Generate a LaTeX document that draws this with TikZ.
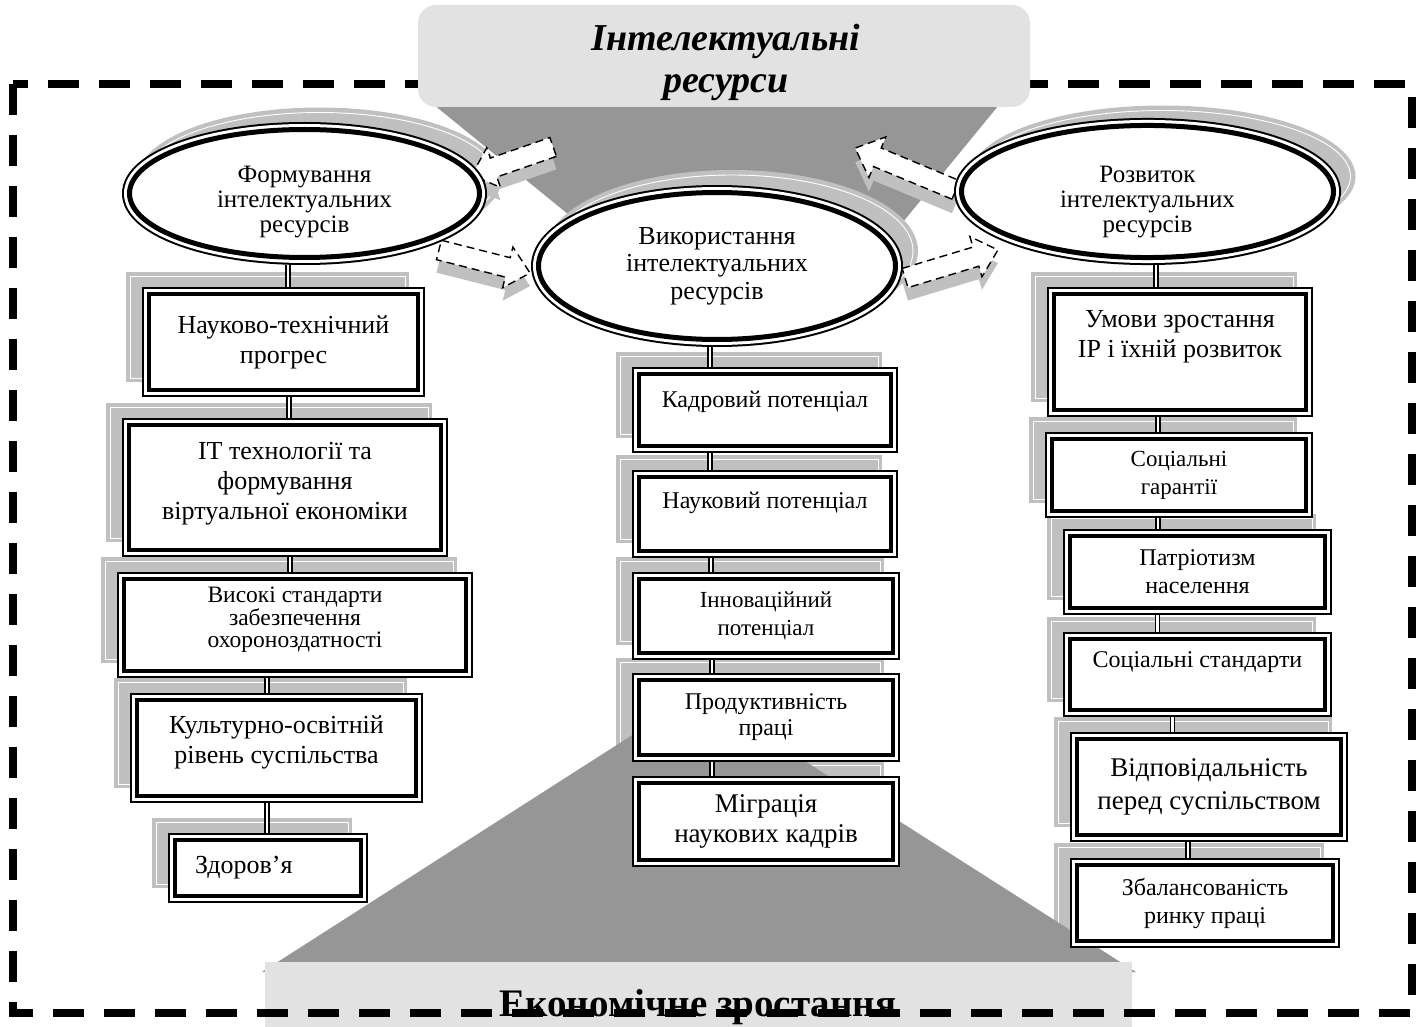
\documentclass[tikz,border=0pt]{standalone}
\usepackage{fontspec}
\setmainfont{Liberation Serif}
\usetikzlibrary{shapes.geometric}

\definecolor{funnelgrey}{RGB}{150,150,150}
\definecolor{shgrey}{RGB}{192,192,192}
\definecolor{bannergrey}{RGB}{226,226,226}

\tikzset{
  dbox/.style={rectangle, draw=black, line width=4pt, fill=white, align=center,
    inner sep=0pt, outer sep=7pt,
    preaction={draw=black, line width=14pt},
    preaction={draw=white, line width=10pt}},
  dell/.style={ellipse, draw=black, line width=5pt, fill=white, align=center,
    inner sep=0pt, outer sep=7.5pt,
    preaction={draw=black, line width=15pt},
    preaction={draw=white, line width=11pt},
    font=\fontsize{25}{25}\selectfont},
  dlink/.style={draw=black, line width=1.3pt, double=white, double distance=2.6pt},
  shline/.style={draw=white, line width=0.9pt},
  blkdash/.style={draw=black, fill=white, line width=1.4pt, dash pattern=on 8pt off 5pt},
  frame/.style={draw=black, line width=8pt, dash pattern=on 31pt off 20pt},
  bigtxt/.style={font=\fontsize{26}{30}\selectfont},
  midtxt/.style={font=\fontsize{24}{28}\selectfont},
  smalltxt/.style={font=\fontsize{24}{27}\selectfont},
}

\begin{document}
\begin{tikzpicture}[x=1pt,y=-1pt]
  \useasboundingbox (0,0) rectangle (1425,1027);

  % Funnel under the top banner
  \fill[funnelgrey] (428,100) -- (1003,100) -- (880,250) -- (612,250) -- cycle;

  % Shadows of the ellipses
  \fill[shgrey] (319.5,178.5) ellipse [x radius=182, y radius=71];
  \draw[shline] (319.5,178.5) ellipse [x radius=177, y radius=66];
  \fill[shgrey] (732,251) ellipse [x radius=186, y radius=81];
  \draw[shline] (732,251) ellipse [x radius=181, y radius=76];
  \fill[shgrey] (1162.5,176.5) ellipse [x radius=193, y radius=71];
  \draw[shline] (1162.5,176.5) ellipse [x radius=188, y radius=66];

  % Shadows of the boxes, left column
  \fill[shgrey] (126,272) rectangle (409,382);
  \draw[shline] (130,276) rectangle (405,378);
  \fill[shgrey] (106,403) rectangle (432,542);
  \draw[shline] (110,407) rectangle (428,538);
  \fill[shgrey] (101,557) rectangle (457,663);
  \draw[shline] (105,561) rectangle (453,659);
  \fill[shgrey] (114,678) rectangle (407,788);
  \draw[shline] (118,682) rectangle (403,784);
  \fill[shgrey] (152,818) rectangle (352,888);
  \draw[shline] (156,822) rectangle (348,884);

  % Shadows of the boxes, middle column
  \fill[shgrey] (616,352) rectangle (882,438);
  \draw[shline] (620,356) rectangle (878,434);
  \fill[shgrey] (616,455) rectangle (882,543);
  \draw[shline] (620,459) rectangle (878,539);
  \fill[shgrey] (616,557) rectangle (884,645);
  \draw[shline] (620,561) rectangle (880,641);
  \fill[shgrey] (616,658) rectangle (884,747);
  \draw[shline] (620,662) rectangle (880,743);
  \fill[shgrey] (616,761) rectangle (884,852);
  \draw[shline] (620,765) rectangle (880,848);

  % Shadows of the boxes, right column
  \fill[shgrey] (1031,272) rectangle (1297,402);
  \draw[shline] (1035,276) rectangle (1293,398);
  \fill[shgrey] (1029,417) rectangle (1297,503);
  \draw[shline] (1033,421) rectangle (1293,499);
  \fill[shgrey] (1047,514) rectangle (1316,600);
  \draw[shline] (1051,518) rectangle (1312,596);
  \fill[shgrey] (1047,617) rectangle (1316,702);
  \draw[shline] (1051,621) rectangle (1312,698);
  \fill[shgrey] (1054,717) rectangle (1332,827);
  \draw[shline] (1058,721) rectangle (1328,823);
  \fill[shgrey] (1054,843) rectangle (1324,933);
  \draw[shline] (1058,847) rectangle (1320,929);

  % Funnel above the bottom banner
  \fill[funnelgrey] (698,693) -- (1136,972) -- (262,972) -- cycle;

  % Bottom banner
  \fill[bannergrey] (265,962) rectangle (1132,1040);
  \node[font=\fontsize{39}{42}\selectfont\bfseries, anchor=base] (eg) at (698,1016) {Економічне зростання};

  % Dashed frame
  \draw[frame] (13,84) rectangle (1412,1013);

  % Top banner
  \fill[bannergrey, rounded corners=18pt] (418,5) rectangle (1030,107);
  \node[font=\fontsize{38}{42}\selectfont\bfseries\itshape, align=center] (ir) at (726,62) {Інтелектуальні\\ресурси};

  % Block arrows with their shadows
  \begin{scope}[shift={(484.5,274.5)}, rotate=-14.2]
    \fill[shgrey] (-47,-10) -- (24,-10) -- (24,-21) -- (47,0) -- (24,21) -- (24,10) -- (-47,10) -- cycle;
  \end{scope}
  \begin{scope}[shift={(484.5,261.5)}, rotate=-14.2]
    \filldraw[blkdash] (-47,-10) -- (24,-10) -- (24,-21) -- (47,0) -- (24,21) -- (24,10) -- (-47,10) -- cycle;
  \end{scope}
  \begin{scope}[shift={(951.5,277)}, rotate=16.8]
    \fill[shgrey] (-48.5,-10) -- (25.5,-10) -- (25.5,-21) -- (48.5,0) -- (25.5,21) -- (25.5,10) -- (-48.5,10) -- cycle;
  \end{scope}
  \begin{scope}[shift={(951.5,264)}, rotate=16.8]
    \filldraw[blkdash] (-48.5,-10) -- (25.5,-10) -- (25.5,-21) -- (48.5,0) -- (25.5,21) -- (25.5,10) -- (-48.5,10) -- cycle;
  \end{scope}
  \begin{scope}[shift={(905.5,183)}, rotate=157.4]
    \fill[shgrey] (-54.5,-10) -- (30.5,-10) -- (30.5,-22) -- (54.5,0) -- (30.5,22) -- (30.5,10) -- (-54.5,10) -- cycle;
  \end{scope}
  \begin{scope}[shift={(905.5,169)}, rotate=157.4]
    \filldraw[blkdash] (-54.5,-10) -- (30.5,-10) -- (30.5,-22) -- (54.5,0) -- (30.5,22) -- (30.5,10) -- (-54.5,10) -- cycle;
  \end{scope}
  \begin{scope}[shift={(512.5,174)}, rotate=-160.9]
    \fill[shgrey] (-43,-10) -- (20,-10) -- (20,-21) -- (43,0) -- (20,21) -- (20,10) -- (-43,10) -- cycle;
  \end{scope}
  \begin{scope}[shift={(512.5,161)}, rotate=-160.9]
    \filldraw[blkdash] (-43,-10) -- (20,-10) -- (20,-21) -- (43,0) -- (20,21) -- (20,10) -- (-43,10) -- cycle;
  \end{scope}

  % Ellipses
  \node[dell, minimum width=350pt, minimum height=128pt] (fe) at (304.5,193.5)
    {\rule{0pt}{34pt}Формування\\інтелектуальних\\ресурсів};
  \node[dell, minimum width=357pt, minimum height=147pt, font=\fontsize{26}{27.5}\selectfont] (mu) at (717,266)
    {Використання\\інтелектуальних\\ресурсів};
  \node[dell, minimum width=372pt, minimum height=128pt] (re) at (1147.5,191.5)
    {\rule{0pt}{38pt}Розвиток\\інтелектуальних\\ресурсів};

  % Boxes, left column
  \node[dbox, bigtxt, minimum width=269pt, minimum height=96pt] (b1) at (283.5,342) {Науково-технічний\\прогрес};
  \node[dbox, bigtxt, minimum width=312pt, minimum height=125pt] (b2) at (285,487.5)
    {IT технології та\\формування\\віртуальної економіки\rule[-14pt]{0pt}{14pt}};
  \node[dbox, font=\fontsize{23.5}{22.5}\selectfont, minimum width=342pt, minimum height=92pt] (b3) at (295,625)
    {Високі стандарти\\забезпечення\\охороноздатності\rule[-15pt]{0pt}{15pt}};
  \node[dbox, bigtxt, minimum width=279pt, minimum height=96pt] (b4) at (276.5,748)
    {Культурно-освітній\\рівень суспільства\rule[-16pt]{0pt}{16pt}};
  \node[dbox, bigtxt, minimum width=186pt, minimum height=56pt, text width=146pt, align=left, inner xsep=20pt] (b5) at (268,868) {Здоров’я};

  % Boxes, middle column
  \node[dbox, smalltxt, minimum width=252pt, minimum height=72pt] (m1) at (765,410) {Кадровий потенціал\rule[-21pt]{0pt}{21pt}};
  \node[dbox, smalltxt, minimum width=252pt, minimum height=74pt] (m2) at (765,514) {Науковий потенціал\rule[-27pt]{0pt}{27pt}};
  \node[dbox, font=\fontsize{23}{28}\selectfont, minimum width=254pt, minimum height=74pt] (m3) at (766,616) {Інноваційний\\потенціал};
  \node[dbox, font=\fontsize{24}{26}\selectfont, minimum width=254pt, minimum height=75pt] (m4) at (766,717.5) {Продуктивність\\праці};
  \node[dbox, font=\fontsize{27}{30}\selectfont, minimum width=254pt, minimum height=77pt] (m5) at (766,821.5) {Міграція\\наукових кадрів};

  % Boxes, right column
  \node[dbox, bigtxt, minimum width=252pt, minimum height=116pt] (r1) at (1180,352)
    {Умови зростання\\ІР і їхній розвиток\rule[-36pt]{0pt}{36pt}};
  \node[dbox, font=\fontsize{23}{28}\selectfont, minimum width=254pt, minimum height=72pt] (r2) at (1179,475) {Соціальні\\гарантії};
  \node[dbox, midtxt, minimum width=255pt, minimum height=72pt] (r3) at (1197.5,572) {Патріотизм\\населення};
  \node[dbox, midtxt, minimum width=255pt, minimum height=71pt] (r4) at (1197.5,674.5) {Соціальні стандарти\rule[-29pt]{0pt}{29pt}};
  \node[dbox, font=\fontsize{27}{33}\selectfont, minimum width=264pt, minimum height=96pt] (r5) at (1209,787)
    {Відповідальність\\перед суспільством};
  \node[dbox, midtxt, minimum width=256pt, minimum height=76pt] (r6) at (1205,903) {Збалансованість\\ринку праці};

  % Links, left column
  \draw[dlink] ([xshift=4.5pt]b1.north) -- ([xshift=4.5pt]b1.north |- fe.south);
  \draw[dlink] ([xshift=5.5pt]b1.south) -- ([xshift=5.5pt]b1.south |- b2.north);
  \draw[dlink] ([xshift=5pt]b2.south) -- ([xshift=5pt]b2.south |- b3.north);
  \draw[dlink] ([xshift=-28pt]b3.south) -- ([xshift=-28pt]b3.south |- b4.north);
  \draw[dlink] ([xshift=-9.5pt]b4.south) -- ([xshift=-9.5pt]b4.south |- b5.north);

  % Links, middle column
  \draw[dlink] ([xshift=-7pt]mu.south) -- ([xshift=-7pt]mu.south |- m1.north);
  \draw[dlink] ([xshift=-55pt]m1.south) -- ([xshift=-55pt]m1.south |- m2.north);
  \draw[dlink] ([xshift=-54pt]m2.south) -- ([xshift=-54pt]m2.south |- m3.north);
  \draw[dlink] ([xshift=-54pt]m3.south) -- ([xshift=-54pt]m3.south |- m4.north);
  \draw[dlink] ([xshift=-54pt]m4.south) -- ([xshift=-54pt]m4.south |- m5.north);

  % Links, right column
  \draw[dlink] ([xshift=8.5pt]re.south) -- ([xshift=8.5pt]re.south |- r1.north);
  \draw[dlink] ([xshift=-22pt]r1.south) -- ([xshift=-22pt]r1.south |- r2.north);
  \draw[dlink] ([xshift=-21pt]r2.south) -- ([xshift=-21pt]r2.south |- r3.north);
  \draw[dlink] ([xshift=-40pt]r3.south) -- ([xshift=-40pt]r3.south |- r4.north);
  \draw[dlink] ([xshift=-25pt]r4.south) -- ([xshift=-25pt]r4.south |- r5.north);
  \draw[dlink] ([xshift=-21pt]r5.south) -- ([xshift=-21pt]r5.south |- r6.north);
\end{tikzpicture}
\end{document}
